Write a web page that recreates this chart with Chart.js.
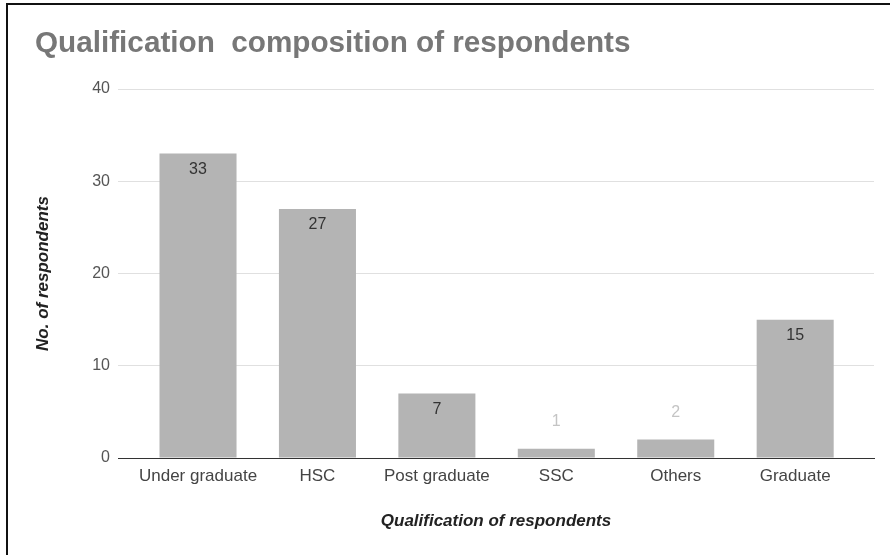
<!DOCTYPE html>
<html>
<head>
<meta charset="utf-8">
<script src="https://cdn.jsdelivr.net/npm/chart.js@4"></script>
<style>
	html, body { margin: 0; padding: 0; background: #fff; }
	#wrap { position: relative; width: 890px; height: 555px; }
	#frame { position: absolute; left: 6px; top: 3px; right: 0; bottom: 0; border-left: 2px solid #111; border-top: 2px solid #111; pointer-events: none; }
</style>
</head>
<body>
<div id="wrap">
	<canvas id="qualChart" width="890" height="555"></canvas>
	<div id="frame"></div>
</div>
<script>
const categories = ["Under graduate", "HSC", "Post graduate", "SSC", "Others", "Graduate"]
const respondents = [33, 27, 7, 1, 2, 15]
const yTicks = [0, 10, 20, 30, 40]

Chart.defaults.font.family = "'Liberation Sans', Arial, sans-serif"

// value labels: inside the top of tall bars, above the short ones
const valueLabels = {
	id: "valueLabels",
	afterDatasetsDraw(chart) {
		const ctx = chart.ctx
		const meta = chart.getDatasetMeta(0)
		ctx.save()
		ctx.font = "16px 'Liberation Sans', Arial, sans-serif"
		ctx.textAlign = "center"
		ctx.textBaseline = "middle"
		meta.data.forEach((bar, i) => {
			const v = respondents[i]
			if (v >= 5) {
				ctx.fillStyle = "#333"
				ctx.fillText(v, bar.x, bar.y + 16)
			} else {
				ctx.fillStyle = "#c4c4c4"
				ctx.fillText(v, bar.x, bar.y - 27)
			}
		})
		ctx.restore()
	}
}

const qualChart = new Chart(document.getElementById("qualChart"), {
	type: "bar",
	data: {
		datasets: [{
			label: "No. of respondents",
			data: respondents.map((v, i) => ({ x: i, y: v })),
			backgroundColor: "#b4b4b4",
			categoryPercentage: 1,
			barPercentage: 0.645
		}]
	},
	options: {
		responsive: false,
		animation: false,
		layout: { padding: { left: 35, right: 16, top: 0, bottom: 0 } },
		scales: {
			x: {
				type: "linear",
				bounds: "data",
				offset: false,
				min: -0.67,
				max: 5.66,
				afterBuildTicks: s => { s.ticks = categories.map((c, i) => ({ value: i })) },
				afterFit: s => { s.height = 97 },
				ticks: {
					callback: v => categories[v],
					autoSkip: false,
					maxRotation: 0,
					color: "#444",
					font: { size: 17 },
					padding: 7.8
				},
				grid: { display: false, drawTicks: false },
				border: { display: true, color: "#333", width: 1 },
				title: {
					display: true,
					text: "Qualification of respondents",
					color: "#222",
					font: { size: 17, weight: "bold", style: "italic" },
					padding: { top: 0, bottom: 23.8 }
				}
			},
			y: {
				min: 0,
				max: 40,
				afterBuildTicks: s => { s.ticks = yTicks.map(v => ({ value: v })) },
				afterFit: s => { s.width = 83 },
				ticks: { color: "#555", font: { size: 16 }, padding: 8 },
				grid: {
					drawTicks: false,
					color: c => c.tick && c.tick.value === 0 ? "#333" : "#e0e0e0"
				},
				border: { display: false },
				title: {
					display: true,
					text: "No. of respondents",
					color: "#222",
					font: { size: 17, weight: "bold", style: "italic" },
					padding: { top: -2, bottom: 0 }
				}
			}
		},
		plugins: {
			legend: { display: false },
			tooltip: { enabled: false },
			title: {
				display: true,
				text: "Qualification  composition of respondents",
				align: "start",
				color: "#777",
				font: { size: 29.7, weight: "bold" },
				padding: { top: 25.7, bottom: 27.7 }
			}
		}
	},
	plugins: [valueLabels]
})
</script>
</body>
</html>
